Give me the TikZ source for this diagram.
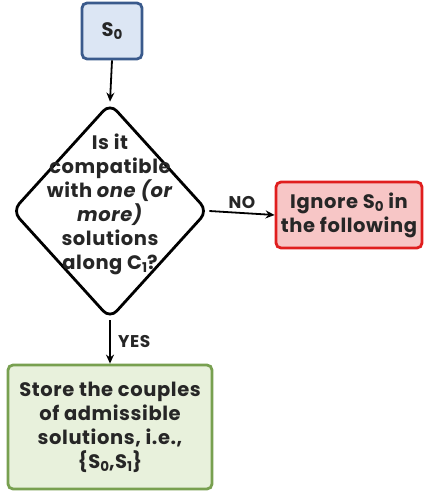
\documentclass[tikz,border=0pt]{standalone}
\usepackage{fontspec}
\setmainfont{Poppins}[LetterSpace=3]
\usetikzlibrary{shapes.geometric,arrows.meta}
\definecolor{bluefill}{HTML}{DCE6F4}
\definecolor{blueline}{HTML}{3A5A8C}
\definecolor{redfill}{HTML}{F7C6C6}
\definecolor{redline}{HTML}{E01E1E}
\definecolor{greenfill}{HTML}{E8F1DC}
\definecolor{greenline}{HTML}{78A050}
\newcommand{\mysub}[1]{\raisebox{-0.3ex}{\fontsize{13.5}{13.5}\selectfont #1}}
\tikzset{
  every node/.style={font=\bfseries\fontsize{19.5}{24}\selectfont, text=black!85},
  boxbase/.style={draw, line width=2.8pt, rounded corners=5pt, align=center, inner sep=0pt},
  arr/.style={-{Stealth[length=9pt,width=8pt]}, line width=1.8pt},
  lbl/.style={font=\bfseries\fontsize{17}{18}\selectfont}
}
\begin{document}
\begin{tikzpicture}[x=1pt,y=-1pt]
\useasboundingbox (0,0) rectangle (424,492);
\node[boxbase, draw=blueline, fill=bluefill, minimum width=60pt, minimum height=56pt] (s0) at (112,31) {S\mysub{0}};
\node[draw, line width=2.8pt, diamond, rounded corners=10pt, minimum width=196pt, minimum height=216pt, inner sep=0pt] (dec) at (110,211) {};
\node[align=center] (dectext) at (110,204) {Is it\\compatible\\with \textit{one (or}\\\textit{more)}\\solutions\\along C\mysub{1}?};
\node[boxbase, draw=redline, fill=redfill, minimum width=146pt, minimum height=66pt] (ign) at (349,215) {Ignore S\mysub{0} in\\the following};
\node[boxbase, draw=greenline, fill=greenfill, minimum width=204pt, minimum height=124pt] (store) at (110,427) {Store the couples\\of admissible\\solutions, i.e.,\\\{S\mysub{0},S\mysub{1}\}};
\draw[arr] (s0.south) -- (dec.north);
\draw[arr] (dec.east) -- node[lbl, above] (no) {NO} (ign.west);
\draw[arr] (dec.south) -- node[lbl, right, xshift=4pt] (yes) {YES} (store.north);
\end{tikzpicture}
\end{document}
